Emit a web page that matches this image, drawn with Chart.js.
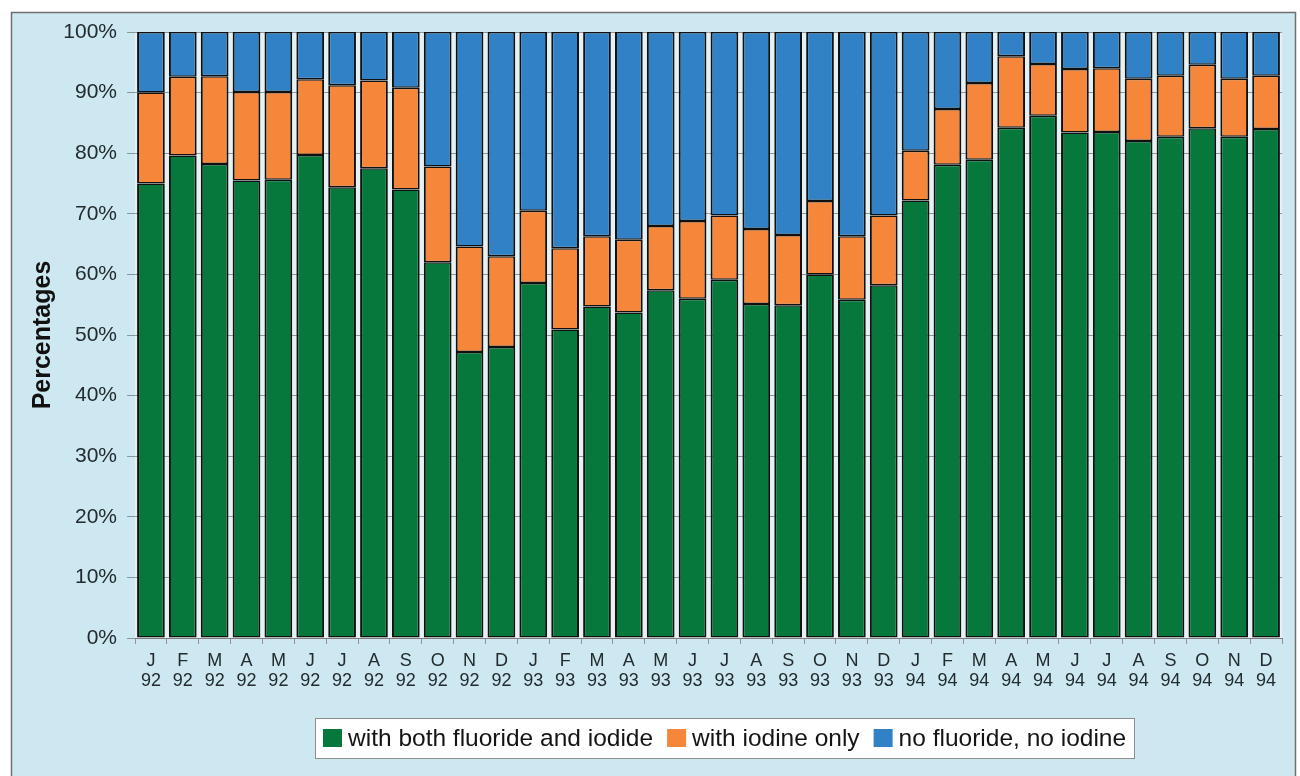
<!DOCTYPE html>
<html>
<head>
<meta charset="utf-8">
<script src="https://cdn.jsdelivr.net/npm/chart.js@4/dist/chart.umd.min.js"></script>
<style>
  html, body { margin: 0; padding: 0; background: #ffffff; }
  #wrap { position: absolute; left: 0; top: 0; width: 1300px; height: 776px; }
</style>
</head>
<body>
<div id="wrap"><canvas id="c" width="1300" height="776"></canvas></div>
<script>
// ---- data ----
const monthLetters = ['J','F','M','A','M','J','J','A','S','O','N','D',
                      'J','F','M','A','M','J','J','A','S','O','N','D',
                      'J','F','M','A','M','J','J','A','S','O','N','D'];
const yearLabels = ['92','92','92','92','92','92','92','92','92','92','92','92',
                    '93','93','93','93','93','93','93','93','93','93','93','93',
                    '94','94','94','94','94','94','94','94','94','94','94','94'];
const bothFluorideIodide = [75.0, 79.6, 78.2, 75.5, 75.6, 79.7, 74.4, 77.5, 74.0, 62.0, 47.2, 48.0,
                            58.6, 50.9, 54.7, 53.7, 57.4, 56.0, 59.1, 55.1, 54.9, 60.0, 55.8, 58.2,
                            72.2, 78.1, 78.9, 84.2, 86.2, 83.4, 83.5, 82.0, 82.7, 84.1, 82.7, 84.0];
const iodineOnly = [15.0, 13.0, 14.5, 14.6, 14.5, 12.5, 16.8, 14.5, 16.8, 15.8, 17.4, 15.0,
                    11.9, 13.4, 11.6, 12.0, 10.6, 12.8, 10.6, 12.4, 11.6, 12.1, 10.5, 11.5,
                    8.2, 9.2, 12.7, 11.8, 8.5, 10.5, 10.5, 10.3, 10.1, 10.5, 9.6, 8.8];
const noFluorideNoIodine = [10.0, 7.4, 7.3, 9.9, 9.9, 7.8, 8.8, 8.0, 9.2, 22.2, 35.4, 37.0,
                            29.5, 35.7, 33.7, 34.3, 32.0, 31.2, 30.3, 32.5, 33.5, 27.9, 33.7, 30.3,
                            19.6, 12.7, 8.4, 4.0, 5.3, 6.1, 6.0, 7.7, 7.2, 5.4, 7.7, 7.2];
const seriesNames = ['with both fluoride and iodide', 'with iodine only', 'no fluoride, no iodine'];
const yTickValues = [0, 10, 20, 30, 40, 50, 60, 70, 80, 90, 100];
const yAxisTitle = 'Percentages';

// ---- styling ----
const FONT = "'Liberation Sans', Arial, Helvetica, sans-serif";
const BG = '#cde8f0';
const GREEN = '#07783c';
const ORANGE = '#f5863a';
const BLUE = '#3181c6';
const LEGEND = { centerX: 724, centerY: 738, boxH: 40, fontSize: 24.5, swatchW: 19, swatchH: 18, gap: 6, itemGap: 14, pad: 8 };

const labels = monthLetters.map((m, i) => [m, yearLabels[i]]);

const framePlugin = {
  id: 'frame',
  beforeDraw(chart) {
    const ctx = chart.ctx;
    ctx.save();
    ctx.fillStyle = '#ffffff';
    ctx.fillRect(0, 0, chart.width, chart.height);
    ctx.fillStyle = BG;
    ctx.fillRect(11, 12, 1284, 800);
    ctx.strokeStyle = '#6f6f6f';
    ctx.lineWidth = 1.5;
    ctx.strokeRect(11.5, 12.5, 1284, 800);
    const a = chart.chartArea;
    ctx.fillStyle = '#e6f1f3';
    ctx.fillRect(a.left, a.top, a.right - a.left, a.bottom - a.top);
    ctx.restore();
  },
  afterDraw(chart) {
    // legend drawn from the datasets
    const ctx = chart.ctx;
    ctx.save();
    ctx.font = LEGEND.fontSize + 'px ' + FONT;
    ctx.textBaseline = 'middle';
    const items = chart.data.datasets.map(d => ({ text: d.label, color: d.backgroundColor, w: ctx.measureText(d.label).width }));
    let total = 0;
    items.forEach((it, i) => { total += LEGEND.swatchW + LEGEND.gap + it.w + (i ? LEGEND.itemGap : 0); });
    const boxW = Math.round(total + LEGEND.pad * 2);
    const boxL = Math.round(LEGEND.centerX - boxW / 2);
    const boxT = Math.round(LEGEND.centerY - LEGEND.boxH / 2);
    ctx.fillStyle = '#ffffff';
    ctx.fillRect(boxL, boxT, boxW, LEGEND.boxH);
    ctx.strokeStyle = '#8c8c8c';
    ctx.lineWidth = 1;
    ctx.strokeRect(boxL + 0.5, boxT + 0.5, boxW, LEGEND.boxH);
    let x = boxL + LEGEND.pad;
    items.forEach((it, i) => {
      if (i) x += LEGEND.itemGap;
      ctx.fillStyle = it.color;
      ctx.fillRect(x, LEGEND.centerY - LEGEND.swatchH / 2, LEGEND.swatchW, LEGEND.swatchH);
      x += LEGEND.swatchW + LEGEND.gap;
      ctx.fillStyle = '#141414';
      ctx.fillText(it.text, x, LEGEND.centerY + 1);
      x += it.w;
    });
    ctx.restore();
  }
};

new Chart(document.getElementById('c'), {
  type: 'bar',
  data: {
    labels: labels,
    datasets: [
      { label: seriesNames[0], data: bothFluorideIodide, backgroundColor: GREEN },
      { label: seriesNames[1], data: iodineOnly, backgroundColor: ORANGE },
      { label: seriesNames[2], data: noFluorideNoIodine, backgroundColor: BLUE }
    ].map(d => Object.assign(d, {
      borderColor: '#101010',
      borderWidth: { left: 2, right: 2, top: 1.5, bottom: 1.5 },
      borderSkipped: false,
      barPercentage: 0.87, categoryPercentage: 1.0
    }))
  },
  options: {
    responsive: false,
    animation: false,
    devicePixelRatio: 1,
    layout: { padding: { left: 28, top: 32, right: 18, bottom: 76 } },
    plugins: {
      legend: { display: false },
      tooltip: { enabled: false },
      title: { display: false }
    },
    scales: {
      x: {
        stacked: true,
        offset: true,
        grid: { display: true, drawOnChartArea: false, drawTicks: true, tickLength: 6, color: '#9a8f96', offset: true },
        border: { display: true, color: '#7d7d7d', width: 1 },
        ticks: {
          font: { family: FONT, size: 18, lineHeight: 1.1 },
          color: '#222b2e',
          padding: 7,
          maxRotation: 0,
          autoSkip: false
        },
        afterFit(scale) { scale.height = 62; }
      },
      y: {
        stacked: true,
        min: 0,
        max: 100,
        afterBuildTicks(scale) { scale.ticks = yTickValues.map(v => ({ value: v })); },
        ticks: {
          font: { family: FONT, size: 21 },
          color: '#222b2e',
          padding: 10,
          callback: v => v + '%'
        },
        grid: { color: '#8a979b', lineWidth: 1, tickLength: 8 },
        border: { display: false },
        title: {
          display: true,
          text: yAxisTitle,
          font: { family: FONT, size: 25, weight: 'bold' },
          color: '#111111',
          padding: { top: 0, bottom: 0 }
        },
        afterFit(scale) { scale.width = 107; }
      }
    }
  },
  plugins: [framePlugin]
});
</script>
</body>
</html>
